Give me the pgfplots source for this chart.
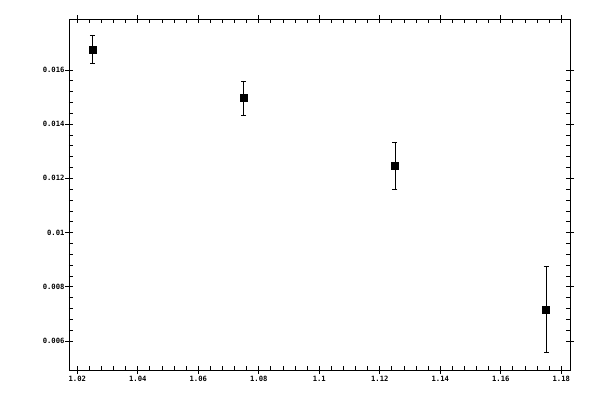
\documentclass[border=0pt]{standalone}
\usepackage{fontspec}
\setmonofont{DejaVu Sans Mono}
\usepackage{pgfplots}
\pgfplotsset{compat=1.18}

\begin{document}
\begin{tikzpicture}
	\begin{axis}[
		scale only axis,
		width=501pt, height=351pt,
		xmin=1.01726, xmax=1.18288,
		ymin=0.00493, ymax=0.01788,
		xtick={1.02,1.04,...,1.18},
		ytick={0.006,0.008,...,0.0161},
		minor x tick num=4,
		minor y tick num=4,
		tick align=inside,
		major tick length=4pt,
		minor tick length=4pt,
		% outer half of the major ticks
		extra x ticks={1.02,1.04,...,1.18},
		extra y ticks={0.006,0.008,...,0.0161},
		extra x tick labels={},
		extra y tick labels={},
		extra tick style={tick align=outside, major tick length=4pt},
		tick style={black, line width=0.8pt},
		axis line style={line width=0.8pt},
		/pgf/number format/assume math mode=true,
		tick label style={font=\fontsize{7.2}{8}\selectfont\ttfamily\bfseries},
		xticklabel style={/pgf/number format/fixed, /pgf/number format/precision=2, yshift=-3pt},
		yticklabel style={/pgf/number format/fixed, /pgf/number format/precision=3, xshift=-1pt},
		scaled ticks=false,
		xtick pos=both, ytick pos=both,
		xticklabel pos=lower, yticklabel pos=left,
		]
		\addplot[
		only marks,
		mark=square*,
		mark size=3.5pt,
		black,
		error bars/.cd,
		y dir=both, y explicit,
		error bar style={line width=0.8pt},
		error mark options={rotate=90, mark size=2.5pt, line width=0.8pt},
		] coordinates {
			(1.025, 0.01676) +- (0, 0.00052)
			(1.075, 0.01496) +- (0, 0.00062)
			(1.125, 0.01245) +- (0, 0.00086)
			(1.175, 0.00717) +- (0, 0.00160)
		};
	\end{axis}
	\pgfresetboundingbox
	\path ([shift={(-69pt,-30pt)}]current axis.south west) rectangle ++(600pt,400pt);
\end{tikzpicture}
\end{document}
